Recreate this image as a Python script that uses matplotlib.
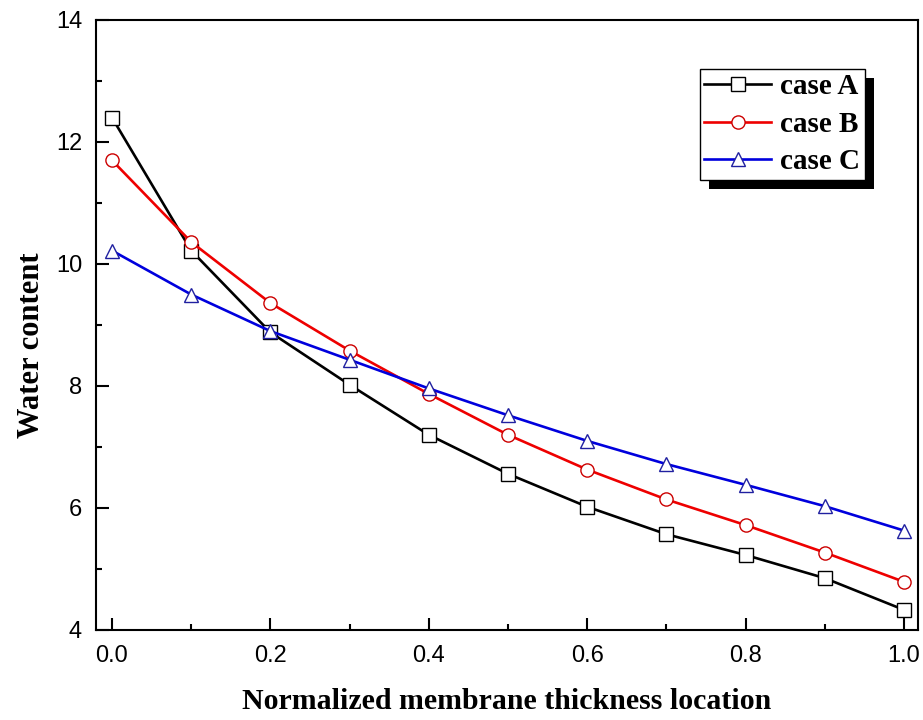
import matplotlib
matplotlib.use("Agg")
import matplotlib.pyplot as plt
from matplotlib.patches import Rectangle
from matplotlib.transforms import IdentityTransform

x = [0.0, 0.1, 0.2, 0.3, 0.4, 0.5, 0.6, 0.7, 0.8, 0.9, 1.0]
case_a = [12.40, 10.22, 8.88, 8.02, 7.20, 6.56, 6.02, 5.57, 5.23, 4.85, 4.33]
case_b = [11.70, 10.36, 9.36, 8.58, 7.87, 7.20, 6.63, 6.14, 5.72, 5.27, 4.79]
case_c = [10.22, 9.50, 8.90, 8.43, 7.96, 7.52, 7.10, 6.72, 6.38, 6.03, 5.63]
labels = ["case A", "case B", "case C"]
xticks = [0.0, 0.2, 0.4, 0.6, 0.8, 1.0]
yticks = [4, 6, 8, 10, 12, 14]

fig = plt.figure(figsize=(9.23, 7.2), dpi=100)
ax = fig.add_axes([96/923, 90/720, 822/923, 610/720])

mk = dict(markersize=9.5, markerfacecolor="white", markeredgewidth=1.0, linewidth=1.9)
ax.plot(x, case_a, color="black", marker="s", markeredgecolor="black", label=labels[0], **mk)
ax.plot(x, case_b, color="#ee0000", marker="o", markeredgecolor="#cc0000", label=labels[1], **mk)
ax.plot(x, case_c, color="#0000dd", marker="^", markeredgecolor="#2020a0", label=labels[2], **mk)

ax.set_xlim(-0.0202, 1.0177)
ax.set_ylim(4, 14)
ax.set_xticks(xticks)
ax.set_xticklabels([f"{v:.1f}" for v in xticks])
ax.set_yticks(yticks)
ax.set_xticks([0.1, 0.3, 0.5, 0.7, 0.9], minor=True)
ax.set_yticks([5, 7, 9, 11, 13], minor=True)
ax.tick_params(which="both", direction="in", width=1.5, labelsize=17,
               labelfontfamily="Liberation Sans")
ax.tick_params(which="major", length=9)
ax.tick_params(which="minor", length=4.5)
ax.tick_params(axis="x", which="major", pad=11)
ax.tick_params(axis="y", which="major", pad=10)
for s in ax.spines.values():
    s.set_linewidth(1.5)

ax.set_xlabel("Normalized membrane thickness location", fontsize=21.5, fontweight="bold",
              family="Liberation Serif", labelpad=15)
ax.set_ylabel("Water content", fontsize=22, fontweight="bold",
              family="Liberation Serif", labelpad=7)
ax.yaxis.label.set_y(0.467)

leg = ax.legend(loc="upper left", bbox_to_anchor=((700-96)/822, (630-69)/610),
                borderaxespad=0, frameon=True, fancybox=False, framealpha=1,
                edgecolor="black", handlelength=2.3, handletextpad=0.3,
                borderpad=0.15, labelspacing=0.36,
                prop=dict(family="Liberation Serif", weight="bold", size=21))
leg.get_frame().set_linewidth(1.0)

fig.canvas.draw()
bb = leg.get_window_extent()
shadow = Rectangle((bb.x0 + 9, bb.y0 - 9), bb.width, bb.height, transform=IdentityTransform(),
                   facecolor="black", edgecolor="none", zorder=4.9, clip_on=False)
ax.add_artist(shadow)

fig.savefig("out.png", dpi=100)
